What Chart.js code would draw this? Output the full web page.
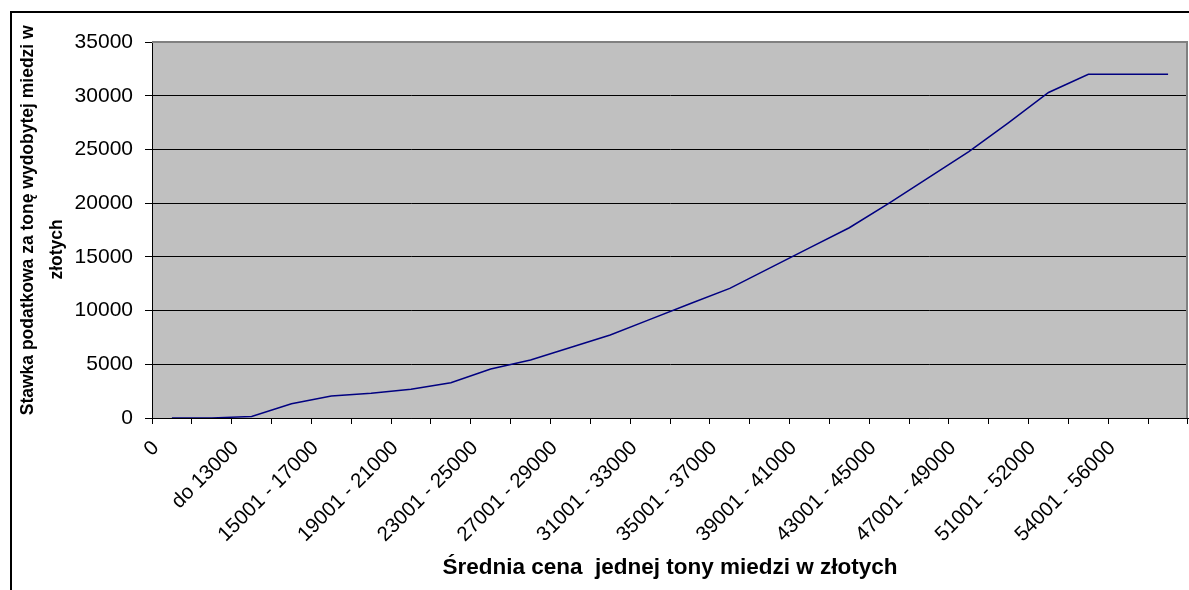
<!DOCTYPE html>
<html>
<head>
<meta charset="utf-8">
<script src="https://cdn.jsdelivr.net/npm/chart.js@4.4.1/dist/chart.umd.min.js"></script>
<style>
  html, body { margin: 0; padding: 0; background: #ffffff; }
  #wrap { width: 1189px; height: 590px; position: relative; }
</style>
</head>
<body>
<div id="wrap"><canvas id="c" width="1189" height="590"></canvas></div>
<script>
// Categories (price ranges, zł per tonne of copper)
const categories = [
  "0", "do 11000", "do 13000", "13001 - 15000", "15001 - 17000", "17001 - 19000",
  "19001 - 21000", "21001 - 23000", "23001 - 25000", "25001 - 27000", "27001 - 29000",
  "29001 - 31000", "31001 - 33000", "33001 - 35000", "35001 - 37000", "37001 - 39000",
  "39001 - 41000", "41001 - 43000", "43001 - 45000", "45001 - 47000", "47001 - 49000",
  "49001 - 51000", "51001 - 52000", "52001 - 54000", "54001 - 56000", "powyżej 56000"
];
// Tax rate per tonne (zł)
const taxRate = [
  0, 0, 150, 1330, 2050, 2300, 2670, 3290, 4560, 5400, 6560, 7730, 9180,
  10630, 12070, 13950, 15830, 17710, 20000, 22400, 24800, 27500, 30300,
  32000, 32000, 32000
];
// Y axis tick values
const yTicks = [0, 5000, 10000, 15000, 20000, 25000, 30000, 35000];

const xTitle = "Średnia cena  jednej tony miedzi w złotych";
const yTitle = ["    Stawka podatkowa za tonę wydobytej miedzi w", "złotych        "];

const FONT = "'Liberation Sans', Arial, Helvetica, sans-serif";

const framePlugin = {
  id: 'frame',
  beforeDraw(chart) {
    const ctx = chart.ctx;
    const a = chart.chartArea;
    ctx.save();
    ctx.fillStyle = '#ffffff';
    ctx.fillRect(0, 0, chart.width, chart.height);
    ctx.strokeStyle = '#000000';
    ctx.lineWidth = 2;
    ctx.strokeRect(11, 12, chart.width + 20, chart.height + 20);
    ctx.fillStyle = '#C0C0C0';
    ctx.fillRect(a.left, a.top, a.right - a.left, a.bottom - a.top);
    ctx.restore();
  },
  beforeDatasetsDraw(chart) {
    const ctx = chart.ctx;
    const a = chart.chartArea;
    ctx.save();
    ctx.strokeStyle = '#808080';
    ctx.lineWidth = 2;
    ctx.beginPath();
    ctx.moveTo(a.left, a.top);
    ctx.lineTo(a.right - 1, a.top);
    ctx.lineTo(a.right - 1, a.bottom);
    ctx.stroke();
    ctx.restore();
  }
};

new Chart(document.getElementById('c'), {
  type: 'line',
  data: {
    labels: categories,
    datasets: [{
      data: taxRate,
      borderColor: '#000080',
      borderWidth: 1.5,
      pointRadius: 0,
      pointHoverRadius: 0,
      tension: 0,
      fill: false
    }]
  },
  options: {
    responsive: false,
    animation: false,
    events: [],
    layout: { padding: { left: 0, right: 1, top: 42, bottom: 0 } },
    plugins: { legend: { display: false }, tooltip: { enabled: false }, title: { display: false } },
    scales: {
      x: {
        type: 'category',
        offset: true,
        afterFit(scale) { scale.height = 172; scale.paddingLeft = 0; scale.paddingRight = 0; },
        grid: { display: true, drawOnChartArea: false, drawTicks: true, tickLength: 6, tickColor: '#000000', offset: true },
        border: { display: true, color: '#000000', width: 1 },
        ticks: {
          autoSkip: false,
          maxRotation: 45,
          minRotation: 45,
          padding: 12,
          labelOffset: -16,
          color: '#000000',
          font: { family: FONT, size: 20.5 },
          callback(value, index) { return index % 2 === 0 ? categories[index] : ''; }
        },
        title: {
          display: true,
          text: xTitle,
          color: '#000000',
          font: { family: FONT, size: 22.5, weight: 'bold' },
          padding: { top: 0, bottom: 9 }
        }
      },
      y: {
        min: yTicks[0],
        max: yTicks[yTicks.length - 1],
        afterFit(scale) { scale.width = 152; scale.paddingTop = 0; scale.paddingBottom = 0; },
        afterBuildTicks(scale) { scale.ticks = yTicks.map(v => ({ value: v })); },
        grid: {
          drawTicks: true,
          tickLength: 7,
          tickColor: '#000000',
          lineWidth: 1,
          color(ctx) { return ctx.tick && ctx.tick.value === yTicks[yTicks.length - 1] ? 'rgba(0,0,0,0)' : '#000000'; }
        },
        border: { display: true, color: '#000000', width: 1 },
        ticks: {
          padding: 12,
          color: '#000000',
          font: { family: FONT, size: 21 },
          callback(value) { return String(value); }
        },
        title: {
          display: true,
          text: yTitle,
          color: '#000000',
          font: { family: FONT, size: 17.5, weight: 'bold', lineHeight: 1.65 },
          padding: { top: 14, bottom: 0 }
        }
      }
    }
  },
  plugins: [framePlugin]
});
</script>
</body>
</html>
